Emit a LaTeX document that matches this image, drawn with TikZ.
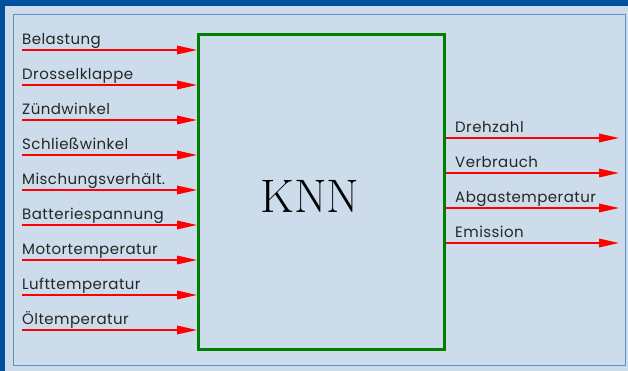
\documentclass[tikz,border=0pt]{standalone}
\usepackage{fontspec}
\setmainfont{Poppins}[LetterSpace=3]
\newfontfamily\titlefont{Latin Modern Roman}
\usetikzlibrary{arrows.meta}
\definecolor{panel}{HTML}{CCDCEA}
\definecolor{frameblue}{HTML}{0050A0}
\definecolor{edgeblue}{HTML}{5F8FC4}
\definecolor{boxgreen}{HTML}{008000}
\tikzset{
  sig/.style={draw=red, line width=1.7pt, -{Triangle[length=20pt,width=8.5pt]}},
  lbl/.style={anchor=base west, inner sep=0pt, font=\fontsize{15pt}{16pt}\selectfont, text=black!85},
}
\begin{document}
\begin{tikzpicture}[x=1pt,y=-1pt]
  \useasboundingbox (0,0) rectangle (628,371);
  % window background and frame
  \fill[panel] (0,0) rectangle (628,371);
  \fill[frameblue] (0,0) rectangle (628,6);
  \fill[frameblue] (0,0) rectangle (5,371);
  \draw[edgeblue, line width=1pt] (13,15) rectangle (625.5,365);
  % the network block
  \node[draw=boxgreen, line width=3pt, minimum width=246pt, minimum height=315pt,
        inner sep=0pt, anchor=north west] (knn) at (197,33) {};
  \node[font=\fontsize{47pt}{47pt}\selectfont\titlefont] (title) at (310,196) {KNN};
  % inputs
  \foreach \i/\txt in {1/Belastung, 2/Drosselklappe, 3/Zündwinkel, 4/Schließwinkel,
                       5/Mischungsverhält., 6/Batteriespannung, 7/Motortemperatur,
                       8/Lufttemperatur, 9/Öltemperatur}{
    \coordinate (in\i) at (22, {15+35*\i});
    \node[lbl] (inl\i) at (22, {15+35*\i-5.5}) {\txt};
    \draw[sig] (in\i) -- (knn.west |- in\i);
  }
  % outputs
  \foreach \i/\txt in {1/Drehzahl, 2/Verbrauch, 3/Abgastemperatur, 4/Emission}{
    \coordinate (out\i) at (619, {103+35*\i});
    \node[lbl] (outl\i) at (455, {103+35*\i-5.5}) {\txt};
    \draw[sig] (knn.east |- out\i) -- (out\i);
  }
\end{tikzpicture}
\end{document}
